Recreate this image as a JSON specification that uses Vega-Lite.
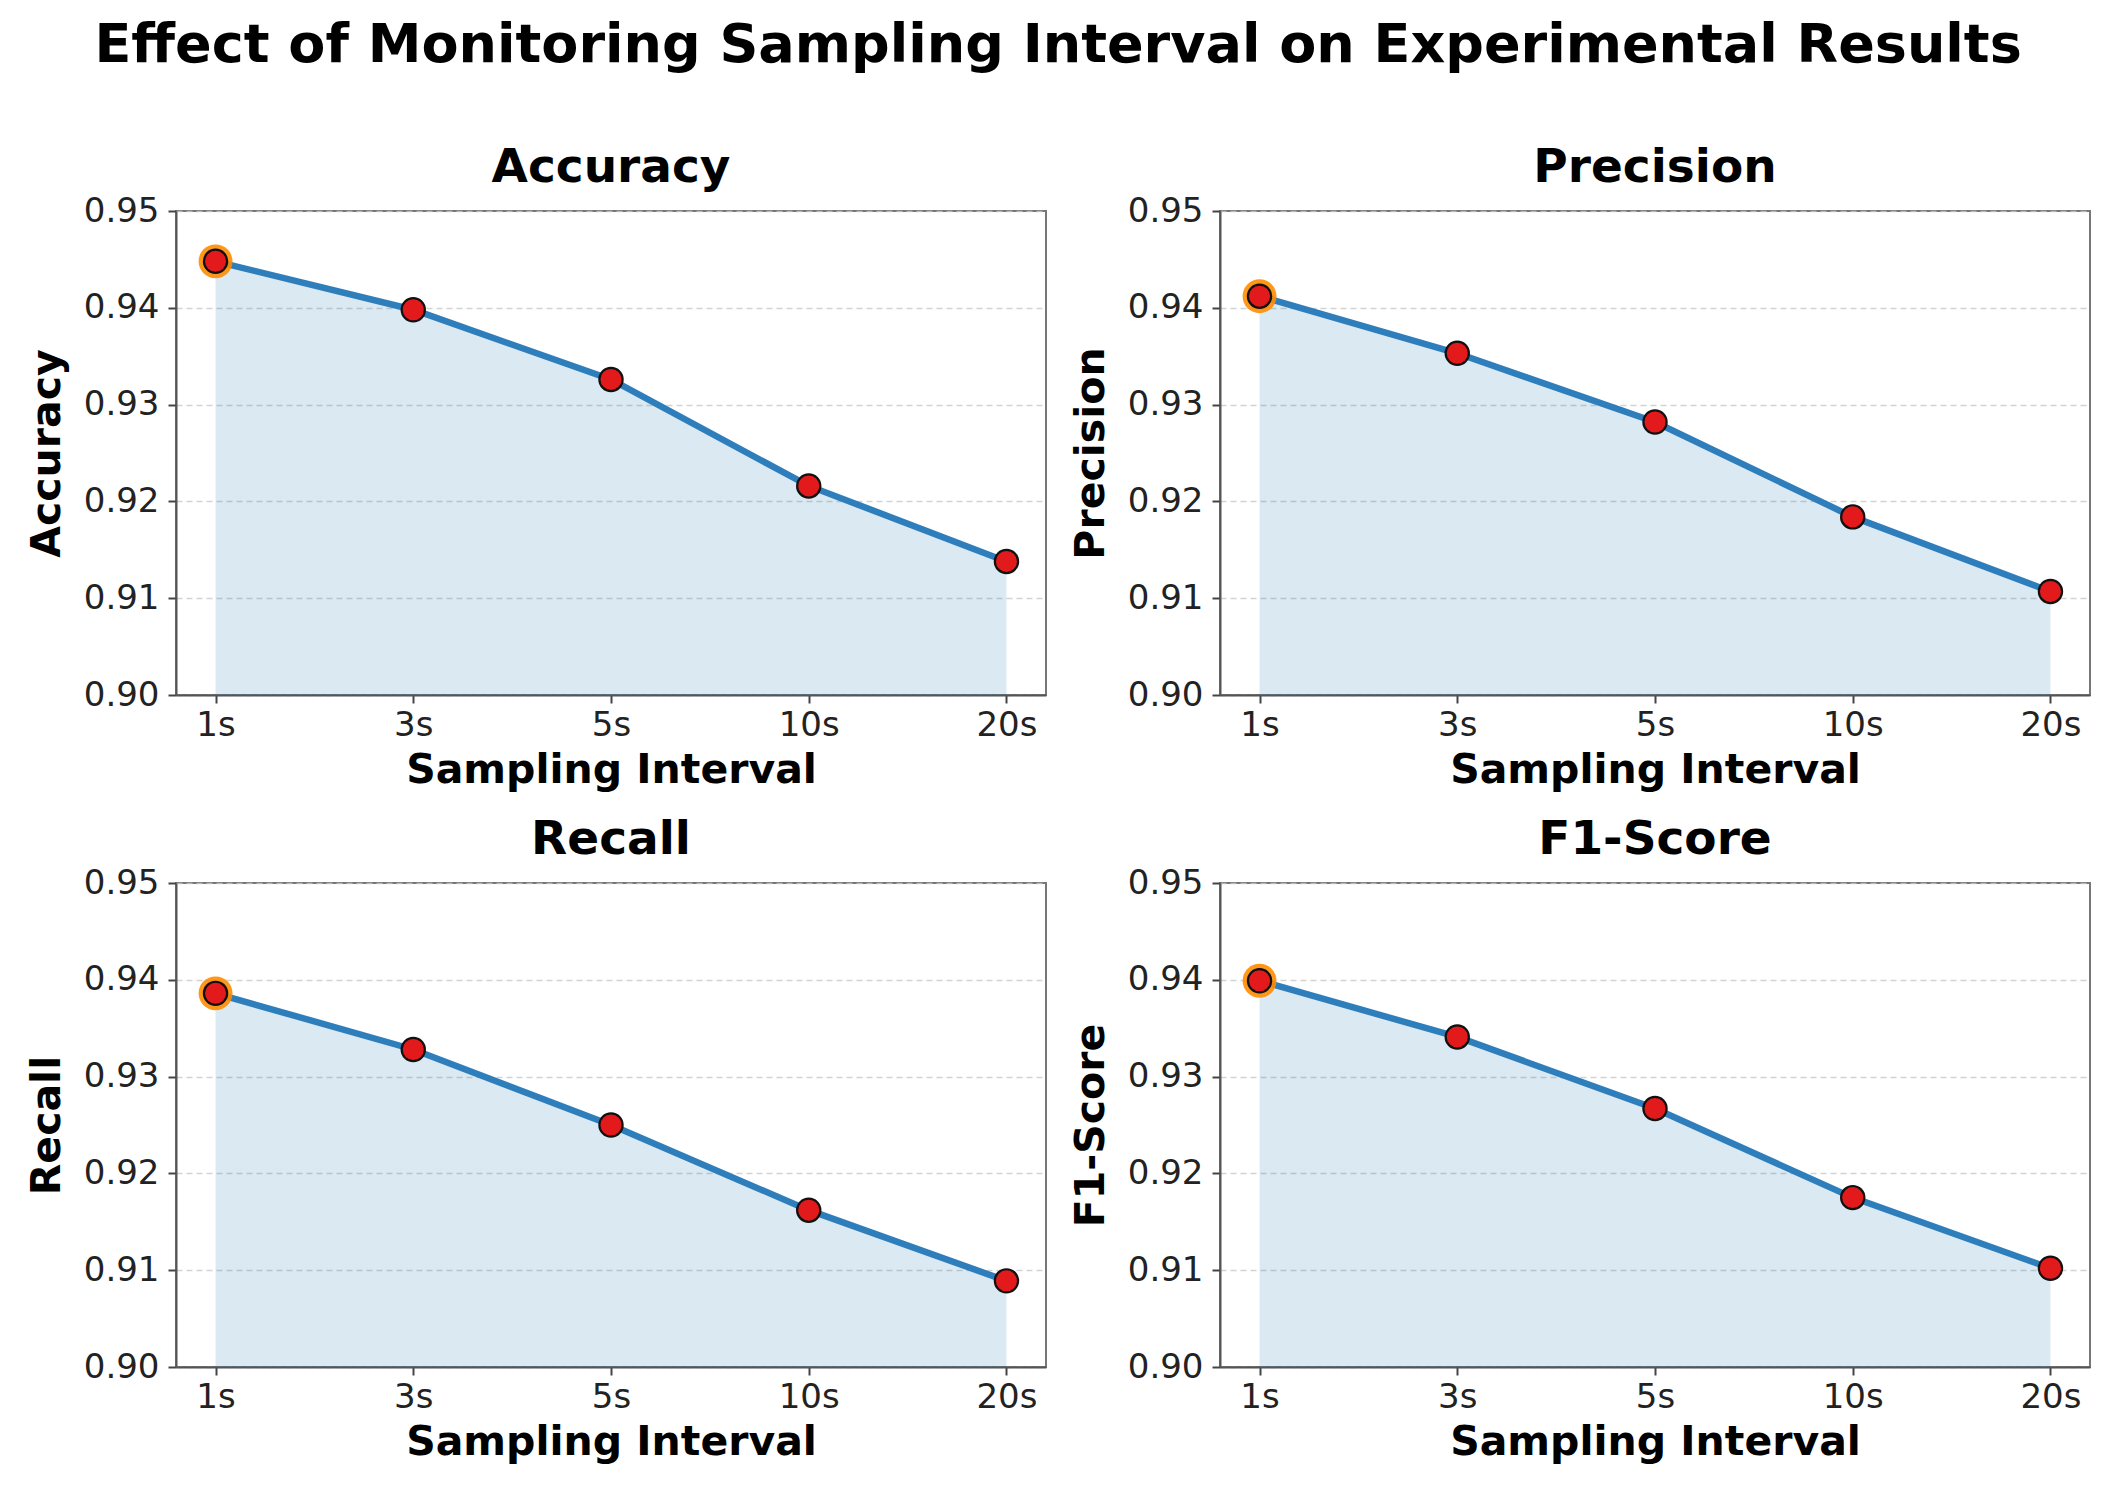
{
  "$schema": "https://vega.github.io/schema/vega-lite/v6.json",
  "padding": {"left": 25, "top": 19, "right": 10, "bottom": 10},
  "background": "white",
  "title": {"text": "Effect of Monitoring Sampling Interval on Experimental Results", "fontSize": 54, "fontWeight": "bold", "font": "DejaVu Sans", "anchor": "middle", "offset": 70, "color": "#000"},
  "datasets": {
    "scores": [
      {"interval": "1s", "metric": "Accuracy", "value": 0.9448},
      {"interval": "3s", "metric": "Accuracy", "value": 0.9398},
      {"interval": "5s", "metric": "Accuracy", "value": 0.9326},
      {"interval": "10s", "metric": "Accuracy", "value": 0.9216},
      {"interval": "20s", "metric": "Accuracy", "value": 0.9138},
      {"interval": "1s", "metric": "Precision", "value": 0.9412},
      {"interval": "3s", "metric": "Precision", "value": 0.9353},
      {"interval": "5s", "metric": "Precision", "value": 0.9282},
      {"interval": "10s", "metric": "Precision", "value": 0.9184},
      {"interval": "20s", "metric": "Precision", "value": 0.9107},
      {"interval": "1s", "metric": "Recall", "value": 0.9386},
      {"interval": "3s", "metric": "Recall", "value": 0.9328},
      {"interval": "5s", "metric": "Recall", "value": 0.9250},
      {"interval": "10s", "metric": "Recall", "value": 0.9162},
      {"interval": "20s", "metric": "Recall", "value": 0.9089},
      {"interval": "1s", "metric": "F1-Score", "value": 0.9399},
      {"interval": "3s", "metric": "F1-Score", "value": 0.9341},
      {"interval": "5s", "metric": "F1-Score", "value": 0.9267},
      {"interval": "10s", "metric": "F1-Score", "value": 0.9175},
      {"interval": "20s", "metric": "F1-Score", "value": 0.9102}
    ]
  },
  "data": {"name": "scores"},
  "columns": 2,
  "spacing": {"row": 24, "column": 22},
  "concat": [
    {
      "title": "Accuracy",
      "width": 870, "height": 484,
      "transform": [{"filter": "datum.metric == 'Accuracy'"}],
      "encoding": {
        "x": {"field": "interval", "type": "ordinal", "sort": ["1s", "3s", "5s", "10s", "20s"], "scale": {"type": "point", "padding": 0.2}, "axis": {"title": "Sampling Interval", "labelAngle": 0}},
        "y": {"field": "value", "type": "quantitative", "scale": {"domain": [0.9, 0.95], "nice": false, "zero": false}, "axis": {"title": "Accuracy", "values": [0.9, 0.91, 0.92, 0.93, 0.94, 0.95], "format": ".2f"}}
      },
      "layer": [
        {"mark": {"type": "area", "color": "#1f77b4", "opacity": 0.16}, "encoding": {"y2": {"datum": 0.9}}},
        {"mark": {"type": "line", "color": "#2f7ebc", "strokeWidth": 6.5}, "encoding": {}},
        {"transform": [{"filter": "datum.interval == '1s'"}], "mark": {"type": "circle", "color": "#ff8c00", "size": 1150, "opacity": 0.9}, "encoding": {}},
        {"mark": {"type": "circle", "fill": "#e31a1c", "stroke": "#111111", "strokeWidth": 2.2, "size": 540, "opacity": 1}, "encoding": {}}
      ]
    },
    {
      "title": "Precision",
      "width": 870, "height": 484,
      "transform": [{"filter": "datum.metric == 'Precision'"}],
      "encoding": {
        "x": {"field": "interval", "type": "ordinal", "sort": ["1s", "3s", "5s", "10s", "20s"], "scale": {"type": "point", "padding": 0.2}, "axis": {"title": "Sampling Interval", "labelAngle": 0}},
        "y": {"field": "value", "type": "quantitative", "scale": {"domain": [0.9, 0.95], "nice": false, "zero": false}, "axis": {"title": "Precision", "values": [0.9, 0.91, 0.92, 0.93, 0.94, 0.95], "format": ".2f"}}
      },
      "layer": [
        {"mark": {"type": "area", "color": "#1f77b4", "opacity": 0.16}, "encoding": {"y2": {"datum": 0.9}}},
        {"mark": {"type": "line", "color": "#2f7ebc", "strokeWidth": 6.5}, "encoding": {}},
        {"transform": [{"filter": "datum.interval == '1s'"}], "mark": {"type": "circle", "color": "#ff8c00", "size": 1150, "opacity": 0.9}, "encoding": {}},
        {"mark": {"type": "circle", "fill": "#e31a1c", "stroke": "#111111", "strokeWidth": 2.2, "size": 540, "opacity": 1}, "encoding": {}}
      ]
    },
    {
      "title": "Recall",
      "width": 870, "height": 484,
      "transform": [{"filter": "datum.metric == 'Recall'"}],
      "encoding": {
        "x": {"field": "interval", "type": "ordinal", "sort": ["1s", "3s", "5s", "10s", "20s"], "scale": {"type": "point", "padding": 0.2}, "axis": {"title": "Sampling Interval", "labelAngle": 0}},
        "y": {"field": "value", "type": "quantitative", "scale": {"domain": [0.9, 0.95], "nice": false, "zero": false}, "axis": {"title": "Recall", "values": [0.9, 0.91, 0.92, 0.93, 0.94, 0.95], "format": ".2f"}}
      },
      "layer": [
        {"mark": {"type": "area", "color": "#1f77b4", "opacity": 0.16}, "encoding": {"y2": {"datum": 0.9}}},
        {"mark": {"type": "line", "color": "#2f7ebc", "strokeWidth": 6.5}, "encoding": {}},
        {"transform": [{"filter": "datum.interval == '1s'"}], "mark": {"type": "circle", "color": "#ff8c00", "size": 1150, "opacity": 0.9}, "encoding": {}},
        {"mark": {"type": "circle", "fill": "#e31a1c", "stroke": "#111111", "strokeWidth": 2.2, "size": 540, "opacity": 1}, "encoding": {}}
      ]
    },
    {
      "title": "F1-Score",
      "width": 870, "height": 484,
      "transform": [{"filter": "datum.metric == 'F1-Score'"}],
      "encoding": {
        "x": {"field": "interval", "type": "ordinal", "sort": ["1s", "3s", "5s", "10s", "20s"], "scale": {"type": "point", "padding": 0.2}, "axis": {"title": "Sampling Interval", "labelAngle": 0}},
        "y": {"field": "value", "type": "quantitative", "scale": {"domain": [0.9, 0.95], "nice": false, "zero": false}, "axis": {"title": "F1-Score", "values": [0.9, 0.91, 0.92, 0.93, 0.94, 0.95], "format": ".2f"}}
      },
      "layer": [
        {"mark": {"type": "area", "color": "#1f77b4", "opacity": 0.16}, "encoding": {"y2": {"datum": 0.9}}},
        {"mark": {"type": "line", "color": "#2f7ebc", "strokeWidth": 6.5}, "encoding": {}},
        {"transform": [{"filter": "datum.interval == '1s'"}], "mark": {"type": "circle", "color": "#ff8c00", "size": 1150, "opacity": 0.9}, "encoding": {}},
        {"mark": {"type": "circle", "fill": "#e31a1c", "stroke": "#111111", "strokeWidth": 2.2, "size": 540, "opacity": 1}, "encoding": {}}
      ]
    }
  ],
  "config": {
    "font": "DejaVu Sans",
    "view": {"stroke": "#777777", "strokeWidth": 2},
    "title": {"fontSize": 47, "fontWeight": "bold", "font": "DejaVu Sans", "color": "#000", "offset": 2},
    "axis": {
      "labelFont": "DejaVu Sans", "labelFontSize": 34, "labelColor": "#222",
      "titleFont": "DejaVu Sans", "titleFontSize": 41, "titleFontWeight": "bold", "titleColor": "#000",
      "tickSize": 8, "tickColor": "#444", "tickWidth": 2,
      "domainColor": "#555", "domainWidth": 2
    },
    "axisX": {"grid": false, "labelPadding": 5, "titlePadding": 8},
    "axisY": {"grid": true, "gridColor": "#c8c8c8", "gridDash": [6, 4], "gridWidth": 1.5, "gridOpacity": 0.8, "labelPadding": 9, "titlePadding": 15}
  }
}
